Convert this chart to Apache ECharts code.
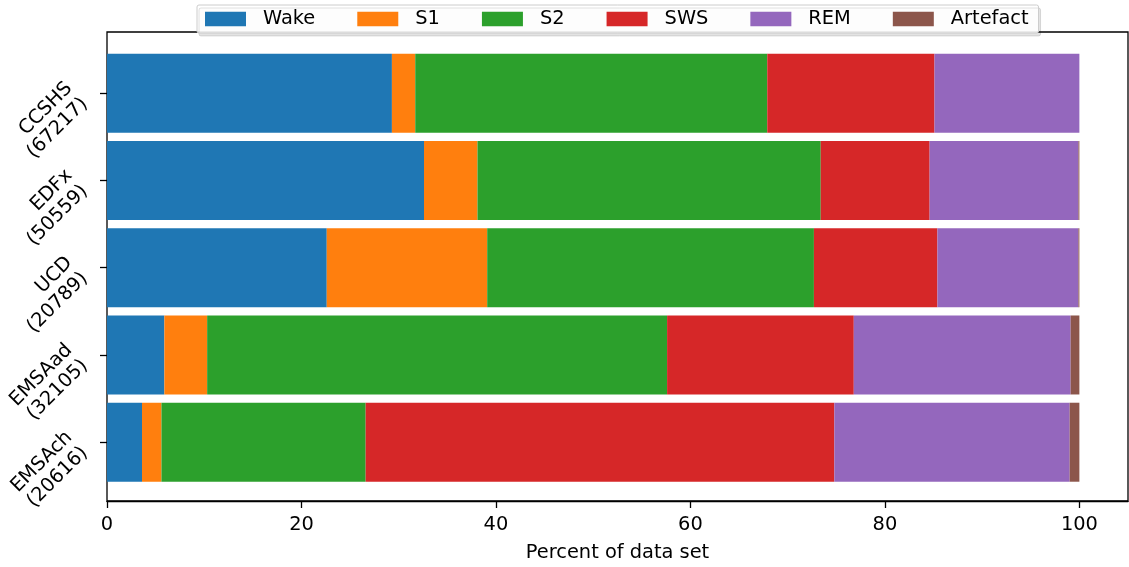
<!DOCTYPE html>
<html>
<head>
<meta charset="utf-8">
<script src="https://cdn.jsdelivr.net/npm/echarts@6/dist/echarts.min.js"></script>
<style>
  html, body { margin: 0; padding: 0; background: #fff; }
  #chart { width: 1129px; height: 567px; }
</style>
</head>
<body>
<div id="chart"></div>
<script>
// Data sets (with number of epochs) and sleep-stage shares in percent
const categories = ['CCSHS\n(67217)', 'EDFx\n(50559)', 'UCD\n(20789)', 'EMSAad\n(32105)', 'EMSAch\n(20616)'];
const stageNames = ['Wake', 'S1', 'S2', 'SWS', 'REM', 'Artefact'];
const wake     = [29.3, 32.6, 22.6, 5.9, 3.6];
const s1       = [2.4, 5.5, 16.5, 4.4, 2.0];
const s2       = [36.2, 35.3, 33.6, 47.3, 21.0];
const sws      = [17.2, 11.2, 12.7, 19.2, 48.2];
const rem      = [14.9, 15.3, 14.5, 22.3, 24.2];
const artefact = [0.0, 0.1, 0.1, 0.9, 1.0];
const xTicks   = [0, 20, 40, 60, 80, 100];

const stageValues = [wake, s1, s2, sws, rem, artefact];
const colors = ['#1f77b4', '#ff7f0e', '#2ca02c', '#d62728', '#9467bd', '#8c564b'];
const FONT = 'DejaVu Sans';
const FS = 19.4;

const chart = echarts.init(document.getElementById('chart'), null, { renderer: 'canvas' });

chart.setOption({
  animation: false,
  color: colors,
  textStyle: { fontFamily: FONT },
  legend: {
    data: stageNames,
    left: 197,
    top: 5,
    orient: 'horizontal',
    icon: 'rect',
    itemWidth: 41,
    itemHeight: 14.5,
    itemGap: 42,
    padding: [3, 10, 3, 8],
    backgroundColor: 'rgba(255,255,255,0.9)',
    borderColor: '#cccccc',
    borderWidth: 1,
    borderRadius: 2,
    shadowColor: 'rgba(0,0,0,0.12)',
    shadowOffsetX: 2,
    shadowOffsetY: 3,
    shadowBlur: 0,
    textStyle: { fontFamily: FONT, fontSize: FS, color: '#000', lineHeight: 22, padding: [0, 0, 0, 12] }
  },
  grid: [
    // outer axes box
    { left: 107, top: 32, width: 1021, height: 471, show: true, borderColor: '#000', borderWidth: 1.3, backgroundColor: 'transparent' },
    // bar band area
    { left: 107, top: 49.6, width: 1021, height: 436.25 }
  ],
  xAxis: [
    {
      gridIndex: 0, type: 'value', min: 0, max: 105,
      name: 'Percent of data set', nameLocation: 'middle', nameGap: 42,
      nameTextStyle: { fontFamily: FONT, fontSize: FS, color: '#000' },
      splitLine: { show: false },
      axisLine: { show: true, lineStyle: { color: '#000', width: 1.3 } },
      axisTick: { show: true, length: 7, lineStyle: { color: '#000', width: 1.3 }, customValues: xTicks },
      axisLabel: { fontFamily: FONT, fontSize: FS, color: '#000', margin: 14, customValues: xTicks }
    },
    {
      gridIndex: 1, type: 'value', min: 0, max: 105, show: false,
      splitLine: { show: false }
    }
  ],
  yAxis: [
    { gridIndex: 0, type: 'value', min: 0, max: 1, show: false, splitLine: { show: false } },
    {
      gridIndex: 1, type: 'category', data: categories, inverse: true,
      axisLine: { show: false },
      axisTick: { show: true, alignWithLabel: true, length: 7, lineStyle: { color: '#000', width: 1.3 } },
      axisLabel: {
        rotate: 45, margin: 30, fontFamily: FONT, fontSize: FS, color: '#000',
        lineHeight: 22, align: 'right'
      },
      splitLine: { show: false }
    }
  ],
  series: stageNames.map((name, i) => ({
    name: name,
    type: 'bar',
    xAxisIndex: 1,
    yAxisIndex: 1,
    stack: 'total',
    barWidth: 79,
    itemStyle: { color: colors[i] },
    emphasis: { disabled: true },
    data: stageValues[i]
  }))
});
</script>
</body>
</html>
